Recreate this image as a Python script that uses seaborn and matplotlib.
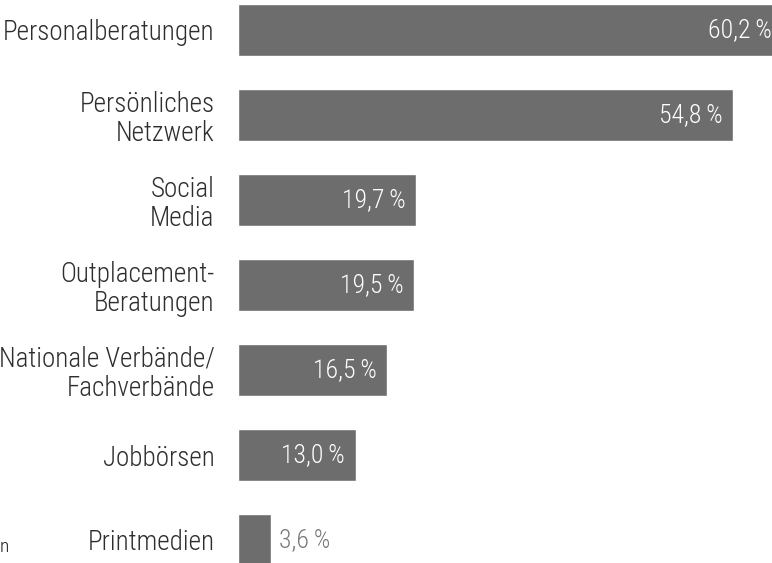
import pandas as pd
import matplotlib
matplotlib.use("Agg")
import matplotlib.pyplot as plt
import seaborn as sns

# ================= DATA =================
categories = [
    "Personalberatungen",
    "Persönliches\nNetzwerk",
    "Social\nMedia",
    "Outplacement-\nBeratungen",
    "Nationale Verbände/\nFachverbände",
    "Jobbörsen",
    "Printmedien",
]
values = [60.2, 54.8, 19.7, 19.5, 16.5, 13.0, 3.6]
value_labels = ["60,2\u2009%", "54,8\u2009%", "19,7\u2009%", "19,5\u2009%",
                "16,5\u2009%", "13,0\u2009%", "3,6\u2009%"]

df = pd.DataFrame({"Kanal": categories, "Anteil": values})

# ================= STYLE =================
sns.set_style("white")
plt.rcParams["font.family"] = ["Roboto Condensed", "DejaVu Sans"]
plt.rcParams["font.weight"] = "light"

BAR_COLOR = "#6d6d6d"
LABEL_COLOR = "#2e2e2e"

fig = plt.figure(figsize=(7.72, 5.63), dpi=100)
ax = fig.add_axes([238 / 772, 0, 534 / 772, 1])

sns.barplot(data=df, y="Kanal", x="Anteil", orient="h", color=BAR_COLOR,
            width=0.62, saturation=1, ax=ax)

ax.set_xlim(0, 534 / 9.04)
ax.set_ylim(6 + 23 / 85, -30 / 85)
ax.set_xlabel("")
ax.set_ylabel("")
ax.set_xticks([])
sns.despine(ax=ax, left=True, bottom=True)
ax.tick_params(axis="y", length=0, pad=17, labelsize=19.5, labelcolor=LABEL_COLOR)
for lbl in ax.get_yticklabels():
    lbl.set_linespacing(1.08)

# value labels: inside the bar in white, outside in grey for the short bar
for i, (v, txt) in enumerate(zip(values, value_labels)):
    if v > 8:
        ax.annotate(txt, xy=(v, i), xytext=(-7.5, 0), textcoords="offset points",
                    ha="right", va="center", color="white", fontsize=18.5,
                    annotation_clip=False)
    else:
        ax.annotate(txt, xy=(v, i), xytext=(6, 0), textcoords="offset points",
                    ha="left", va="center", color="#7a7a7a", fontsize=18.5,
                    annotation_clip=False)

# fragment of a note at the left edge
fig.text(0, 1 - 547 / 563, "n", ha="left", va="center",
         fontsize=14, color="#222222")

fig.savefig("out.png", dpi=100)
